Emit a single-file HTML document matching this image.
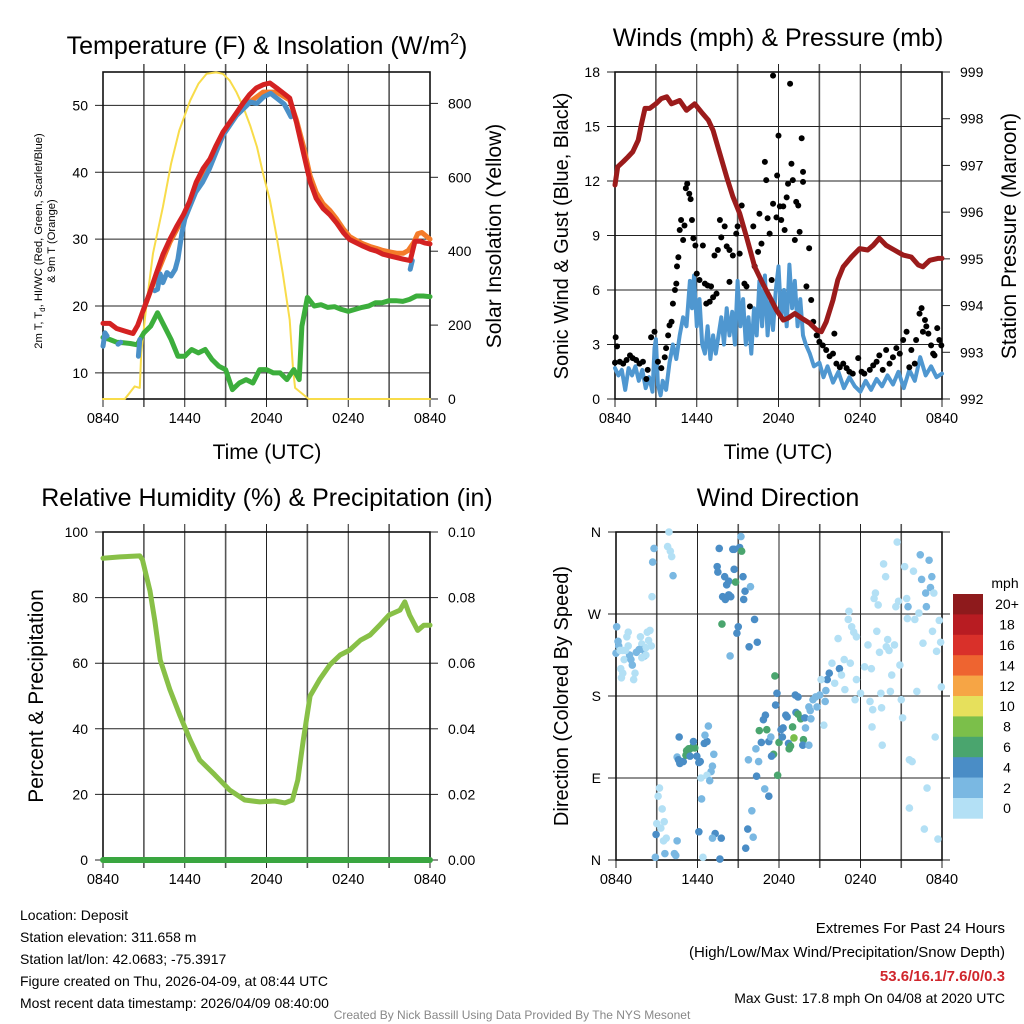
<!DOCTYPE html>
<html><head><meta charset="utf-8"><title>Deposit Meteogram</title>
<style>
html,body{margin:0;padding:0;background:#fff;}
svg{display:block;font-family:"Liberation Sans",Arial,sans-serif;}
</style></head>
<body>
<svg id="chart" width="1024" height="1024" viewBox="0 0 1024 1024" xmlns="http://www.w3.org/2000/svg">
<rect x="0" y="0" width="1024" height="1024" fill="#fff"/>
<text x="267" y="54" font-size="25" text-anchor="middle">Temperature (F) &amp; Insolation (W/m<tspan font-size="16" dy="-10">2</tspan><tspan dy="10">)</tspan></text>
<text x="778" y="46" font-size="25" text-anchor="middle">Winds (mph) &amp; Pressure (mb)</text>
<text x="267" y="506" font-size="25" text-anchor="middle">Relative Humidity (%) &amp; Precipitation (in)</text>
<text x="778" y="506" font-size="25" text-anchor="middle">Wind Direction</text>

<text x="267" y="459" font-size="21" text-anchor="middle">Time (UTC)</text>
<text x="778" y="459" font-size="21" text-anchor="middle">Time (UTC)</text>
<g transform="translate(42,241) rotate(-90)">
<text x="0" y="0" font-size="11.2" text-anchor="middle">2m T, T<tspan font-size="8" dy="3">d</tspan><tspan dy="-3">, HI/WC (Red, Green, Scarlet/Blue)</tspan></text>
<text x="0" y="13" font-size="11.2" text-anchor="middle">&amp; 9m T (Orange)</text>
</g>
<text transform="translate(501,236) rotate(-90)" font-size="21" text-anchor="middle">Solar Insolation (Yellow)</text>
<text transform="translate(568,236) rotate(-90)" font-size="20" text-anchor="middle">Sonic Wind &amp; Gust (Blue, Black)</text>
<text transform="translate(1016,236) rotate(-90)" font-size="21" text-anchor="middle">Station Pressure (Maroon)</text>
<text transform="translate(43,696) rotate(-90)" font-size="21" text-anchor="middle">Percent &amp; Precipitation</text>
<text transform="translate(568,696) rotate(-90)" font-size="20" text-anchor="middle">Direction (Colored By Speed)</text>

<g font-size="14">
<text x="20" y="920">Location: Deposit</text>
<text x="20" y="942">Station elevation: 311.658 m</text>
<text x="20" y="964">Station lat/lon: 42.0683; -75.3917</text>
<text x="20" y="986">Figure created on Thu, 2026-04-09, at 08:44 UTC</text>
<text x="20" y="1008">Most recent data timestamp: 2026/04/09 08:40:00</text>
</g>
<g font-size="14" text-anchor="end">
<text x="1005" y="933" font-size="15">Extremes For Past 24 Hours</text>
<text x="1005" y="957" font-size="15">(High/Low/Max Wind/Precipitation/Snow Depth)</text>
<text x="1005" y="981" font-size="15" font-weight="bold" fill="#d0262c">53.6/16.1/7.6/0/0.3</text>
<text x="1005" y="1003">Max Gust: 17.8 mph On 04/08 at 2020 UTC</text>
</g>
<text x="512" y="1019" font-size="12" fill="#888" text-anchor="middle">Created By Nick Bassill Using Data Provided By The NYS Mesonet</text>
</svg>
<script>
// ---------- data ----------
const timeTickLabels = ["0840","1440","2040","0240","0840"];
const timeTickHours = [0,6,12,18,24];
const tempTicks = [10,20,30,40,50];
const solarTicks = [0,200,400,600,800];
const windTicks = [0,3,6,9,12,15,18];
const pressTicks = [992,993,994,995,996,997,998,999];
const rhTicks = [0,20,40,60,80,100];
const precipTickLabels = ["0.00","0.02","0.04","0.06","0.08","0.10"];
const dirTickLabels = ["N","E","S","W","N"];
const dirTicks = [0,90,180,270,360];

const redHours = [0,0.5,1.0,1.7,2.2,2.55,2.95,3.4,3.9,4.4,4.9,5.4,5.9,6.35,6.85,7.35,7.85,8.3,8.8,9.3,9.8,10.3,10.75,11.25,11.75,12.25,12.75,13.2,13.7,14.2,14.7,15.2,15.65,16.15,16.65,17.15,17.65,18.1,18.6,19.1,19.6,20.1,20.55,21.05,21.55,22.05,22.55,22.9,23.25,23.6,24];
const redTemp = [17.4,17.4,16.65,16.2,15.9,17.1,19.35,21.8,24.8,27.7,29.95,31.9,33.65,35.6,38.55,40.55,42,44,46,47.45,48.9,50.4,51.6,52.6,53.1,53.35,52.6,51.9,51.1,47.45,43,38.6,36.1,34.6,33.65,32.4,30.95,29.95,29.45,28.95,28.5,28.2,27.75,27.5,27.25,27.0,26.8,29.7,29.7,29.45,29.3];
const orangeHours = [2.95,3.9,4.9,5.9,6.85,7.85,8.8,9.8,10.75,11.75,12.75,13.7,14.2,14.7,15.2,15.65,16.15,16.65,17.15,17.65,18.1,18.6,19.1,19.6,20.1,20.55,21.05,21.55,22.05,22.4,22.8,23.1,23.4,23.7,24];
const orangeTemp = [19.3,24.5,29.5,33.3,38,41.5,45.8,48.6,50.5,52,52,50.8,47.8,44,39.5,37,35.3,34.3,33,31.5,30.4,29.8,29.3,28.9,28.6,28.3,28.1,27.9,27.9,28.3,29.5,30.8,31.0,30.5,30.0];
const blueHours = [0,0.15,0.3,0.5,1.1,1.3,1.5,2.6,2.7,2.8,3.8,4.0,4.2,4.4,4.7,5.0,5.3,5.5,5.8,6.0,6.3,6.8,7.3,7.8,8.3,8.8,9.3,9.8,10.3,10.8,11.3,11.8,12.3,12.8,13.3,13.8,13.9,22.55,22.7];
const blueTemp = [14,16,15.5,null,14.3,14.6,null,12.5,15,null,22.3,22.5,24.8,23.5,25,24.5,25.5,27,31,33,34.5,37,38.5,40.5,43,45.5,47,48.5,49.5,50.5,50.3,51.3,51.8,51.0,50.2,48.3,null,25.5,26.8];
const dewHours = [0,0.5,1.0,1.5,2.0,2.5,3.0,3.5,4.0,4.5,5.0,5.5,6.0,6.5,7.0,7.5,8.0,8.5,9.0,9.5,10.0,10.5,11.0,11.5,12.0,12.5,13.0,13.5,14.0,14.4,14.6,15.0,15.5,16.0,16.5,17.0,17.5,18.0,18.5,19.0,19.5,20.0,20.5,21.0,21.5,22.0,22.5,23.0,23.5,24];
const dewTemp = [15.3,15.0,14.6,14.5,14.4,14.2,16.0,17.0,19.0,17.0,15.0,12.5,12.5,13.5,13.0,13.5,12.0,11.0,10.5,7.5,8.5,9.0,8.5,10.5,10.5,10.0,10.0,9.0,10.5,9.0,17.0,21.3,20.0,20.2,19.8,19.9,19.5,19.2,19.5,19.8,20.0,20.5,20.5,20.8,20.8,20.7,21.0,21.5,21.5,21.4];
const solarHours = [0,1.6,2.33,2.7,2.8,3.2,3.67,4.4,5.0,5.6,6.4,7.0,7.6,8.3,8.8,9.3,9.8,10.3,10.8,11.3,11.75,12.25,12.75,13.2,13.7,13.95,14.1,15.1,24];
const solarValues = [0,0,34,30,124,259,394,520,637,727,808,853,880,884,880,862,830,790,740,682,610,538,439,340,214,79,30,0,0];

const pressHours = [0,0.2,0.6,0.95,1.3,1.7,1.95,2.2,2.55,3.0,3.4,3.8,4.15,4.75,5.25,5.85,6.35,6.85,7.2,7.7,8.2,8.65,9.15,9.65,10.25,10.85,11.35,11.85,12.35,12.7,13.2,13.7,14.3,14.8,15.15,15.5,16.0,16.35,16.75,17.35,17.95,18.55,18.95,19.4,19.9,20.5,21.15,21.75,22.25,22.6,23.1,23.7,24];
const pressValues = [996.58,996.97,997.08,997.18,997.29,997.54,997.9,998.22,998.22,998.32,998.43,998.47,998.32,998.39,998.18,998.32,998.14,997.97,997.75,997.25,996.75,996.33,995.97,995.47,994.83,994.47,994.19,993.9,993.69,993.73,993.83,993.73,993.62,993.48,993.44,993.65,994.12,994.55,994.83,995.04,995.22,995.19,995.29,995.44,995.29,995.19,995.08,995.04,994.87,994.83,994.97,995.01,995.01];
const windHours = [0,0.25,0.5,0.75,1.0,1.25,1.5,1.75,2.0,2.25,2.5,2.75,2.9,3.0,3.15,3.35,3.5,3.75,4.0,4.25,4.5,4.75,5.0,5.25,5.5,5.65,5.8,6.0,6.2,6.4,6.6,6.8,7.0,7.2,7.4,7.6,7.8,8.0,8.2,8.4,8.6,8.8,9.0,9.2,9.4,9.6,9.8,10.0,10.2,10.4,10.6,10.8,11.0,11.2,11.4,11.6,11.8,12.0,12.2,12.4,12.6,12.8,13.0,13.2,13.4,13.6,13.8,14.0,14.3,14.6,15.0,15.3,15.6,16.0,16.4,16.8,17.2,17.6,18.0,18.4,18.8,19.2,19.6,20.0,20.4,20.8,21.2,21.6,22.0,22.4,22.8,23.2,23.6,24];
const windSpeed = [1.7,1.3,1.6,0.5,1.7,1.3,1.8,1.0,1.6,0.6,1.2,0.4,2.8,3.3,0.8,0.2,1.0,0.5,2.0,3.0,2.2,3.5,4.5,4.0,6.5,5.0,6.8,4.0,5.5,3.0,2.5,4.0,2.2,3.5,2.5,3.5,4.5,3.0,5.0,3.5,4.8,3.0,6.5,4.0,5.5,3.0,4.5,2.5,5.0,3.5,6.5,4.0,6.8,3.5,5.5,3.8,6.0,7.3,4.5,6.0,4.0,7.4,5.0,6.5,4.0,5.5,3.5,3.0,2.5,1.8,2.0,1.2,1.8,0.9,1.5,0.6,1.2,0.7,0.4,1.0,0.5,1.1,0.7,1.3,0.8,1.5,0.6,1.6,1.0,2.3,1.3,1.8,1.2,1.4];
const gustHours = [0,0.05,0.15,0.35,0.6,0.85,1.1,1.3,1.55,1.8,2.05,2.3,2.4,2.65,2.9,3.15,3.4,3.65,3.75,3.9,4.0,4.15,4.25,4.4,4.5,4.55,4.65,4.75,4.85,5.0,5.1,5.2,5.3,5.45,5.55,5.65,5.75,5.9,6.0,6.2,6.45,6.6,6.8,7.05,6.7,6.95,7.2,7.45,7.3,7.55,7.7,7.8,8.05,8.2,8.4,8.4,8.65,8.9,9.0,9.15,9.3,9.5,9.65,9.9,10.15,10.25,10.5,10.6,10.75,11.0,11.1,11.2,11.35,11.5,11.6,11.6,11.85,11.9,12.0,12.1,12.2,12.35,12.45,12.6,12.7,12.85,12.95,13.05,13.2,13.3,13.45,13.55,13.7,13.8,13.8,14.05,14.25,14.4,14.55,14.8,15.0,15.25,15.5,15.75,16.0,16.1,16.25,16.5,16.75,17.0,17.2,17.45,17.85,18.1,18.3,18.7,18.95,19.2,19.4,19.65,19.9,20.15,20.4,20.65,20.9,21.15,21.4,21.6,21.75,22.0,22.1,22.35,22.5,22.6,22.75,22.85,23.0,23.2,23.35,23.45,23.65,23.8,23.95];
const gustSpeed = [2.0,3.4,2.9,2.05,1.95,2.15,2.4,2.25,2.15,1.95,2.05,1.1,1.6,3.4,3.7,2.05,1.7,2.3,2.8,3.5,4.05,4.25,5.25,6.0,6.35,7.3,7.8,9.3,9.85,8.75,9.55,11.6,11.85,11.3,11.0,9.85,8.85,8.45,6.9,6.55,8.45,6.35,6.25,6.2,5.25,5.35,5.6,5.8,7.9,8.2,9.85,8.9,9.5,8.4,8.2,6.45,7.9,9.1,9.5,8.0,10.65,6.35,6.2,5.1,9.5,7.3,8.1,10.2,8.55,13.05,12.05,9.95,9.1,6.55,10.75,17.8,10.0,12.3,14.5,10.6,9.85,10.6,9.3,11.1,11.85,17.35,12.95,12.05,8.75,10.85,10.65,9.2,14.35,12.5,11.95,6.2,8.3,5.45,4.25,3.5,3.15,2.95,2.7,2.35,2.5,3.6,1.95,1.75,1.95,1.7,1.5,1.4,2.25,1.5,1.4,1.6,1.85,2.05,2.4,1.6,2.7,1.95,2.3,2.8,2.5,3.25,3.7,1.75,2.7,1.95,3.25,4.7,5.0,3.7,4.35,4.0,3.6,2.95,2.5,2.4,3.9,3.25,2.95];

const rhHours = [0,1.25,2.7,2.9,3.45,3.8,4.2,4.9,5.65,6.4,7.1,8.2,9.3,10.4,11.5,12.6,13.35,13.9,14.3,14.7,15.2,15.9,16.65,17.4,18.1,18.9,19.6,20.3,21.0,21.8,22.15,22.5,23.1,23.55,24];
const rhValues = [92,92.4,92.7,91.5,82,73,61,52,44,36.6,30.5,26,21.3,18.3,17.7,18,17.4,18.3,24.4,36.6,50,55,59.5,62.5,64,67,68.6,71.6,74.7,76.2,78.7,74.7,70,71.6,71.6];
const precipHours = [0,24];
const precipValues = [0,0];

const dirHours = [0.05,0.15,0.2,0.0,0.3,0.35,0.4,0.5,0.6,0.8,0.9,0.9,1.0,1.1,1.2,1.4,1.3,1.8,1.9,2.0,2.1,2.2,2.3,2.4,2.5,2.6,2.2,1.7,1.5,1.9,0.7,0.5,
2.8,2.7,2.65,3.9,3.8,4.0,4.1,4.2,
3.2,3.1,3.4,3.0,3.55,3.3,2.95,3.7,3.5,4.5,3.6,4.3,4.4,2.9,
4.65,4.5,4.6,4.7,4.95,5.2,5.35,5.45,5.7,5.8,5.15,5.45,5.7,5.95,6.1,6.2,6.5,6.7,6.55,6.8,7.2,7.1,7.0,6.7,6.25,6.9,6.3,6.1,6.4,7.3,7.1,7.75,7.65,
7.6,7.45,7.5,8.0,8.15,8.3,7.85,8.05,8.3,8.45,8.6,8.7,9.1,9.25,9.2,8.7,8.8,9.35,9.5,9.4,9.9,7.8,9.0,8.9,10.2,9.8,10.4,8.4,
11.7,11.85,11.75,11.0,10.85,10.55,11.1,10.7,11.25,11.4,10.3,11.6,11.45,9.75,10.5,10.35,11.9,10.95,11.25,10.0,9.7,10.1,9.55,12.15,12.3,12.5,12.6,13.0,12.0,12.25,12.7,12.85,12.75,13.1,13.25,13.4,13.6,13.9,13.95,13.8,13.75,14.2,13.2,13.4,14.35,14.2,14.3,14.5,14.7,14.8,15.0,15.4,15.45,15.3,15.7,15.55,16.45,15.1,
15.9,16.1,16.35,16.6,16.8,16.85,17.1,17.15,17.35,17.5,17.7,17.25,17.7,17.6,18.0,18.3,18.55,18.8,18.7,18.9,18.85,19.0,19.1,19.2,19.3,19.4,19.5,19.55,19.6,19.7,19.85,19.9,20.0,20.1,20.2,20.3,20.5,20.6,20.7,20.8,20.9,21.0,21.1,21.25,21.4,21.45,21.6,21.6,21.8,21.9,22.0,22.15,22.3,22.4,22.5,22.6,22.7,22.8,22.85,22.9,23.05,23.15,23.25,23.3,23.4,23.5,23.6,23.7,23.8,23.9,23.95,21.5];
const dirDegrees = [256,240,235,227,230,210,200,205,220,245,250,235,225,220,214,205,198,245,237,231,224,233,250,241,252,235,225,231,228,222,230,230,
342,327,289,360,344,339,333,312,
79,70,56,40,42,35,28,24,21,21,7,7,5,3,
135,113,110,106,108,120,122,122,125,123,115,114,130,114,107,108,128,130,137,147,116,103,97,93,90,87,67,31,3,29,24,24,1,
342,322,316,311,302,306,289,286,291,289,341,341,343,339,355,319,305,311,295,286,300,259,256,249,264,234,239,224,
202,183,170,159,154,142,143,129,130,135,122,116,114,110,108,92,93,78,70,54,34,25,13,143,145,159,157,146,129,135,128,125,122,134,162,160,155,156,145,132,126,126,181,179,155,168,164,176,179,168,181,174,186,148,205,198,210,198,
216,194,243,203,220,187,264,273,256,250,245,216,198,176,183,212,236,210,174,165,146,287,293,251,280,228,183,167,126,325,311,234,242,230,185,203,236,278,349,284,214,176,156,322,287,265,110,57,108,317,264,185,271,335,308,238,34,293,278,79,329,299,311,251,293,135,229,23,263,239,190,278];
const dirSpeedClass = [1,1,1,1,0,0,0,0,0,0,0,0,1,1,1,0,0,0,0,1,1,0,0,0,0,0,0,1,1,0,0,0,
1,1,0,0,0,0,0,1,
0,0,0,0,0,0,2,0,0,1,1,1,1,1,
2,1,2,2,2,3,3,3,3,3,3,2,2,2,2,2,2,2,1,1,1,1,1,0,0,1,1,2,0,2,1,2,2,
2,2,2,2,2,2,2,2,2,2,2,2,2,3,1,2,3,2,2,2,1,3,2,2,2,2,2,1,
3,2,2,2,2,3,3,2,2,1,1,3,2,1,1,2,3,1,2,1,2,1,2,2,2,2,2,3,3,2,2,3,3,4,2,3,3,2,1,3,2,1,2,2,1,1,1,1,1,1,1,1,1,0,2,2,2,0,
0,0,0,0,0,0,0,0,0,0,0,0,0,0,0,0,0,0,0,0,0,0,0,0,0,0,0,0,0,0,0,0,0,0,0,0,0,0,0,0,0,0,0,0,0,0,0,0,0,0,0,0,0,1,1,0,0,1,1,0,1,1,1,0,0,0,0,0,0,0,0,1];
const speedClassColors = ["#b3e0f5","#7ab8e2","#4a8dc6","#4aa56e","#7bbf4a"];
const colorbarLabels = ["20+","18","16","14","12","10","8","6","4","2","0"];
const colorbarColors = ["#8e1a1c","#b81c22","#d9302a","#ee6430","#f6a545","#e6e05c","#7bbf4a","#4aa56e","#4a8dc6","#7ab8e2","#b3e0f5"];

// ---------- helpers ----------
const NS = "http://www.w3.org/2000/svg";
const svg = document.getElementById("chart");
function mk(tag, parent) { const e = document.createElementNS(NS, tag); parent.appendChild(e); return e; }
function xScale(p, h) { return p.x0 + h / 24 * (p.x1 - p.x0); }
function yScale(p, v, lo, hi) { return p.y1 - (v - lo) / (hi - lo) * (p.y1 - p.y0); }

const P1 = {x0:103, x1:430, y0:72, y1:399};
const P2 = {x0:615, x1:942, y0:72, y1:399};
const P3 = {x0:103, x1:430, y0:532, y1:860};
const P4 = {x0:616, x1:942, y0:532, y1:860};

function drawFrame(p, name, leftTicks, leftLabels, lo, hi, rightTicks, rightLabels, rlo, rhi, showRight) {
  const g = mk("g", svg);
  
  
  for (let i = 1; i < 8; i++) {
    const x = xScale(p, i * 3);
    const l = mk("line", g);
    
    
    l.setAttribute("x1", x); l.setAttribute("x2", x);
    l.setAttribute("y1", p.y0 - 8); l.setAttribute("y2", p.y1 + 8);
    l.setAttribute("stroke", i % 2 === 0 ? "#222" : "#555"); l.setAttribute("stroke-width", i % 2 === 0 ? 1 : 1.6);
  }
  for (let i = 0; i < leftTicks.length; i++) {
    const y = yScale(p, leftTicks[i], lo, hi);
    const l = mk("line", g);
    
    
    l.setAttribute("x1", p.x0 - 8); l.setAttribute("x2", p.x1 + (showRight ? 0 : 8));
    l.setAttribute("y1", y); l.setAttribute("y2", y);
    l.setAttribute("stroke", "#222"); l.setAttribute("stroke-width", 1);
    const t = mk("text", g);
    
    
    t.setAttribute("x", p.x0 - 15); t.setAttribute("y", y + 5);
    t.setAttribute("font-size", 14); t.setAttribute("text-anchor", "end");
    t.textContent = leftLabels[i];
  }
  if (showRight) {
    for (let i = 0; i < rightTicks.length; i++) {
      const y = yScale(p, rightTicks[i], rlo, rhi);
      const l = mk("line", g);
      
      
      l.setAttribute("x1", p.x1); l.setAttribute("x2", p.x1 + 8);
      l.setAttribute("y1", y); l.setAttribute("y2", y);
      l.setAttribute("stroke", "#222");
      const t = mk("text", g);
      
      
      t.setAttribute("x", p.x1 + 18); t.setAttribute("y", y + 5);
      t.setAttribute("font-size", 14);
      t.textContent = rightLabels[i];
    }
  }
  for (let i = 0; i < timeTickHours.length; i++) {
    const x = xScale(p, timeTickHours[i]);
    if (i === 0 || i === timeTickHours.length - 1) {
      const l = mk("line", g);
      
      
      l.setAttribute("x1", x); l.setAttribute("x2", x);
      l.setAttribute("y1", p.y1); l.setAttribute("y2", p.y1 + 8);
      l.setAttribute("stroke", "#222");
    }
    const t = mk("text", g);
    
    
    t.setAttribute("x", x); t.setAttribute("y", p.y1 + 24);
    t.setAttribute("font-size", 14.5); t.setAttribute("text-anchor", "middle");
    t.textContent = timeTickLabels[i];
  }
  const r = mk("rect", g);
  
  
  r.setAttribute("x", p.x0); r.setAttribute("y", p.y0);
  r.setAttribute("width", p.x1 - p.x0); r.setAttribute("height", p.y1 - p.y0);
  r.setAttribute("fill", "none"); r.setAttribute("stroke", "#111"); r.setAttribute("stroke-width", 1.6);
  return g;
}

function drawLine(p, hours, vals, lo, hi, color, width, name) {
  let seg = [];
  const segs = [];
  for (let i = 0; i < hours.length; i++) {
    if (vals[i] === null) { if (seg.length) segs.push(seg); seg = []; continue; }
    seg.push(xScale(p, hours[i]).toFixed(1) + "," + yScale(p, vals[i], lo, hi).toFixed(1));
  }
  if (seg.length) segs.push(seg);
  for (const s of segs) {
    const pl = mk("polyline", svg);
    
    
    pl.setAttribute("points", s.join(" "));
    pl.setAttribute("fill", "none"); pl.setAttribute("stroke", color);
    pl.setAttribute("stroke-width", width);
    pl.setAttribute("stroke-linejoin", "round"); pl.setAttribute("stroke-linecap", "round");
  }
}

// ---------- panel 1 ----------
const T_LO = 6.1, T_HI = 55, S_LO = 0, S_HI = 885;
drawFrame(P1, "temperature", tempTicks, tempTicks.map(String), T_LO, T_HI, solarTicks, solarTicks.map(String), S_LO, S_HI, true);
drawLine(P1, solarHours, solarValues, S_LO, S_HI, "#f8dc4a", 2, "solar-insolation-line");
drawLine(P1, dewHours, dewTemp, T_LO, T_HI, "#3cae3c", 5, "dewpoint-line");
drawLine(P1, orangeHours, orangeTemp, T_LO, T_HI, "#f47b2a", 5, "9m-temperature-line");
drawLine(P1, blueHours, blueTemp, T_LO, T_HI, "#4a90c8", 5, "wind-chill-line");
drawLine(P1, redHours, redTemp, T_LO, T_HI, "#d42222", 5, "2m-temperature-line");

// ---------- panel 2 ----------
const W_LO = 0, W_HI = 18, PR_LO = 992, PR_HI = 999;
drawFrame(P2, "winds", windTicks, windTicks.map(String), W_LO, W_HI, pressTicks, pressTicks.map(String), PR_LO, PR_HI, true);
drawLine(P2, windHours, windSpeed, W_LO, W_HI, "#4f97d0", 4, "sonic-wind-line");
const gustGroup = mk("g", svg);


for (let i = 0; i < gustHours.length; i++) {
  const c = mk("circle", gustGroup);
  
  
  c.setAttribute("cx", xScale(P2, gustHours[i])); c.setAttribute("cy", yScale(P2, gustSpeed[i], W_LO, W_HI));
  c.setAttribute("r", 3); c.setAttribute("fill", "#000");
}
drawLine(P2, pressHours, pressValues, PR_LO, PR_HI, "#9b1b1b", 5, "pressure-line");

// ---------- panel 3 ----------
drawFrame(P3, "humidity", rhTicks, rhTicks.map(String), 0, 100, rhTicks, precipTickLabels, 0, 100, true);
drawLine(P3, rhHours, rhValues, 0, 100, "#88c047", 5, "relative-humidity-line");
drawLine(P3, precipHours, precipValues, 0, 0.1, "#3aa640", 6, "precipitation-line");

// ---------- panel 4 ----------
drawFrame(P4, "wind-direction", dirTicks, dirTickLabels, 0, 360, [], [], 0, 1, false);
const dirGroup = mk("g", svg);


for (let i = 0; i < dirHours.length; i++) {
  const c = mk("circle", dirGroup);
  
  
  c.setAttribute("cx", xScale(P4, dirHours[i])); c.setAttribute("cy", yScale(P4, dirDegrees[i], 0, 360));
  c.setAttribute("r", 3.8); c.setAttribute("fill", speedClassColors[dirSpeedClass[i]]);
}
const cb = mk("g", svg);


const cbTitle = mk("text", cb);


cbTitle.setAttribute("x", 1005); cbTitle.setAttribute("y", 588);
cbTitle.setAttribute("font-size", 14); cbTitle.setAttribute("text-anchor", "middle");
cbTitle.textContent = "mph";
const CB_TOP = 594, CB_H = 20.4;
for (let i = 0; i < colorbarColors.length; i++) {
  const r = mk("rect", cb);
  
  
  r.setAttribute("x", 953); r.setAttribute("y", CB_TOP + i * CB_H);
  r.setAttribute("width", 30); r.setAttribute("height", CB_H + 0.3);
  r.setAttribute("fill", colorbarColors[i]);
  const t = mk("text", cb);
  
  
  t.setAttribute("x", 1007); t.setAttribute("y", CB_TOP + i * CB_H + CB_H / 2 + 5);
  t.setAttribute("font-size", 14); t.setAttribute("text-anchor", "middle");
  t.textContent = colorbarLabels[i];
}
</script>
</body></html>
